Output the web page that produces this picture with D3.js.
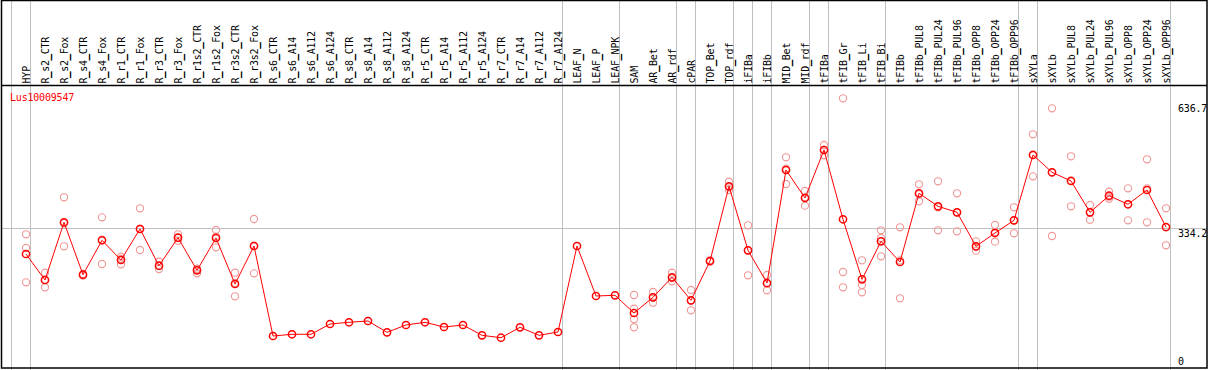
<!DOCTYPE html>
<html><head><meta charset="utf-8">
<script src="https://cdn.jsdelivr.net/npm/d3@7"></script>
<style>
html,body{margin:0;padding:0;background:#fff;}
svg{display:block;}
text{font-family:"DejaVu Sans Mono",monospace;font-size:10px;letter-spacing:-0.2px;}
</style></head><body>
<svg id="chart" width="1209" height="370"></svg>
<script>
const title = "Lus10009547";
const categories = ["HYP","R_s2_CTR","R_s2_Fox","R_s4_CTR","R_s4_Fox","R_r1_CTR","R_r1_Fox","R_r3_CTR","R_r3_Fox","R_r1s2_CTR","R_r1s2_Fox","R_r3s2_CTR","R_r3s2_Fox","R_s6_CTR","R_s6_A14","R_s6_A112","R_s6_A124","R_s8_CTR","R_s8_A14","R_s8_A112","R_s8_A124","R_r5_CTR","R_r5_A14","R_r5_A112","R_r5_A124","R_r7_CTR","R_r7_A14","R_r7_A112","R_r7_A124","LEAF_N","LEAF_P","LEAF_NPK","SAM","AR_Bet","AR_rdf","cPAR","TOP_Bet","TOP_rdf","iFIBa","iFIBb","MID_Bet","MID_rdf","tFIBa","tFIB_Gr","tFIB_Li","tFIB_Bi","tFIBb","tFIBb_PUL8","tFIBb_PUL24","tFIBb_PUL96","tFIBb_OPP8","tFIBb_OPP24","tFIBb_OPP96","sXYLa","sXYLb","sXYLb_PUL8","sXYLb_PUL24","sXYLb_PUL96","sXYLb_OPP8","sXYLb_OPP24","sXYLb_OPP96"];
const groupSizes = [1,28,3,3,1,2,1,1,2,1,3,7,1,7];
const means = [271.6,208.3,348.8,221.2,305.0,257.0,332.5,243.1,311.3,231.9,310.6,198.6,291.1,72.0,76.2,76.2,101.2,105.4,108.6,81.0,98.8,105.4,93.9,98.8,73.7,67.9,93.2,73.7,81.8,291.1,169.4,171.1,128.0,166.2,214.9,158.9,254.6,436.4,280.6,201.0,476.1,407.9,524.7,356.1,210.0,302.5,252.2,419.4,387.7,373.1,290.4,322.7,353.6,512.6,470.5,449.3,373.1,413.5,392.6,427.4,337.3];
const replicates = [
 [319.6,286.2,202.7],[226.1,190.6,208.3],[409.6,290.4,346.3],[222,219,223],[360.9,247.3,306.7],
 [265.1,246.6,259.5],[382.9,281.4,333.2],[252.9,235.1,242.4],[319.6,304.0,310.6],[235.1,224.6,235.8],
 [330.0,287.9,313.7],[226.1,168.7,201.0],[356.8,224.6,291.8],
 [],[],[],[],[],[],[],[],[],[],[],[],[],[],[],[],[],[],[],
 [171.8,138.5,112.7,93.2],[179.1,153.1,166.2],[226.1,205.2,213.2],[184.0,134.6,158.0],[256.3,252.9,254.6],
 [447.6,427.4,434.0],[341.5,219.8,280.6],[220.5,183.3,199.3],[507.0,442.0,479.2],[425.0,389.2,409.6],
 [536.9,511.8,524.7],[650.6,227.8,190.6],[256.3,196.2,178.4],[329.3,310.6,266.0],[336.6,163.8,256.0],
 [441.3,399.9,416.9],[448.6,329.3,385.3],[419.4,326.9,373.1],[302.5,279.7,288.7],[342.2,301.6,324.4],
 [385.3,322.0,353.6],[563.0,460.7,514.0],[626.2,315.4,469.7],[509.4,387.7,450.8],[390.9,355.1,373.1],
 [423.3,406.2,411.1],[431.5,353.6,392.6],[502.1,348.8,431.5],[382.9,292.8,336.6]
];
const yTickLabels = ["636.7","334.2","0"];
const yTickValues = [636.7,334.2,0];

const svg = d3.select("#chart");
const W = 1209, H = 370;
const x = d3.scaleLinear().domain([0, categories.length]).range([7, 7 + 19*categories.length]);
const y = d3.scaleLinear().domain([0, 636.7]).range([365.6, 104]);

// group separator lines
const bounds = [0];
groupSizes.reduce((acc, s) => { bounds.push(acc + s); return acc + s; }, 0);
svg.append("g").selectAll("line").data(bounds).join("line")
  .attr("x1", d => Math.round(x(d) + 4.3) + 0.5).attr("x2", d => Math.round(x(d) + 4.3) + 0.5)
  .attr("y1", 0).attr("y2", H).attr("stroke", "#c0c0c0").attr("stroke-width", 1);

// horizontal gray line at middle tick
svg.append("line").attr("x1", 1).attr("x2", 1207).attr("y1", Math.round(y(334.2)) + 0.5).attr("y2", Math.round(y(334.2)) + 0.5)
  .attr("stroke", "#c0c0c0").attr("stroke-width", 1);

// frame
svg.append("rect").attr("x", 1.5).attr("y", 0.5).attr("width", 1205.5).attr("height", 367.5)
  .attr("fill", "none").attr("stroke", "#000").attr("stroke-width", 1.5);
svg.append("line").attr("x1", 1).attr("x2", 1207).attr("y1", 85.5).attr("y2", 85.5).attr("stroke", "#000").attr("stroke-width", 1.5);

// header labels (underscores given a light stroke so they stay visible)
const labels = svg.append("g").selectAll("text").data(categories).join("text")
  .attr("transform", (d, i) => `translate(${x(i+1)},83.5) rotate(-90)`)
  .attr("dy", "0.36em").attr("text-anchor", "start").attr("fill", "#000");
labels.each(function(d) {
  const t = d3.select(this);
  d.split(/(_)/).forEach(part => {
    if (!part) return;
    const ts = t.append("tspan").text(part);
    if (part === "_") ts.attr("stroke", "#000").attr("stroke-width", 0.7);
  });
});

// title
svg.append("text").attr("x", 10).attr("y", 101).attr("fill", "#ff0000").text(title);

// right tick labels
svg.append("g").selectAll("text").data(yTickValues).join("text")
  .attr("x", 1178).attr("y", (d, i) => d === 0 ? y(d) - 0.5 : y(d) + 8.3)
  .attr("fill", "#000").text((d, i) => yTickLabels[i]);

// replicates
const repPts = [];
replicates.forEach((r, i) => r.forEach(v => repPts.push({i, v})));
svg.append("g").selectAll("circle").data(repPts).join("circle")
  .attr("cx", d => x(d.i+1)).attr("cy", d => y(d.v)).attr("r", 3.6)
  .attr("fill", "none").attr("stroke", "#f09898").attr("stroke-width", 1.1);

// mean line
svg.append("path").datum(means)
  .attr("d", d3.line().x((d, i) => x(i+1)).y(d => y(d)))
  .attr("fill", "none").attr("stroke", "#ff0000").attr("stroke-width", 1);

svg.append("g").selectAll("circle").data(means).join("circle")
  .attr("cx", (d, i) => x(i+1)).attr("cy", d => y(d)).attr("r", 3.6)
  .attr("fill", "none").attr("stroke", "#ff0000").attr("stroke-width", 1.5);
</script>
</body></html>
